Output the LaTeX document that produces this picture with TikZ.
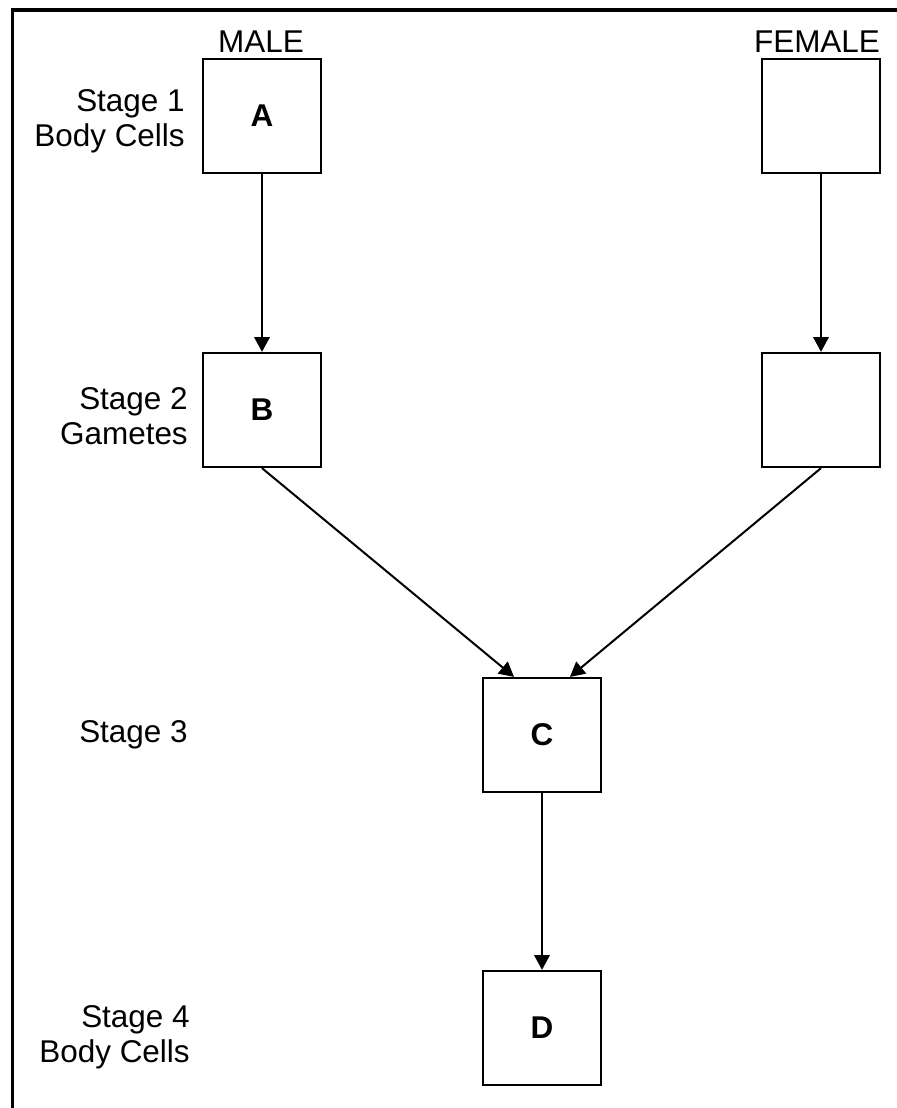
\documentclass[tikz,border=0pt]{standalone}
\usepackage{fontspec}
\setmainfont{Liberation Sans}
\usetikzlibrary{arrows.meta}

\begin{document}
\begin{tikzpicture}[x=0.75pt,y=-0.75pt,
  every node/.style={font=\fontsize{23.6pt}{26.25pt}\selectfont},
  cell/.style={draw,line width=1.7pt,minimum width=88.5pt,minimum height=85.5pt,inner sep=0pt,font=\fontsize{23.6pt}{26.25pt}\selectfont\bfseries},
  stage/.style={align=right,anchor=north east,inner sep=0pt},
  sex/.style={anchor=base,inner sep=0pt},
  link/.style={line width=1.5pt,-{Triangle[length=11pt,width=11.5pt]}}]
\useasboundingbox (0,0) rectangle (897,1108);
\draw[line width=2.6pt] (12.5,1130) -- (12.5,10) -- (920,10);

% boxes
\node[cell] (A) at (262,116) {A};
\node[cell] (F1) at (821,116) {};
\node[cell] (B) at (262,410) {B};
\node[cell] (F2) at (821,410) {};
\node[cell] (C) at (542,735) {C};
\node[cell] (D) at (542,1028) {D};

% headings
\node[sex] (male) at (261,52) {MALE};
\node[sex] (female) at (817,52) {FEMALE};

% stages
\node[stage] (s1) at (185,89) {Stage 1\\Body Cells};
\node[stage] (s2) at (188,387) {Stage 2\\Gametes};
\node[stage] (s3) at (188,720) {Stage 3};
\node[stage] (s4) at (190,1005) {Stage 4\\Body Cells};

% arrows
\draw[link] (A) -- (B);
\draw[link] (F1) -- (F2);
\draw[link] (B.south) -- ([xshift=-21pt]C.north);
\draw[link] (F2.south) -- ([xshift=21pt]C.north);
\draw[link] (C) -- (D);
\end{tikzpicture}
\end{document}
